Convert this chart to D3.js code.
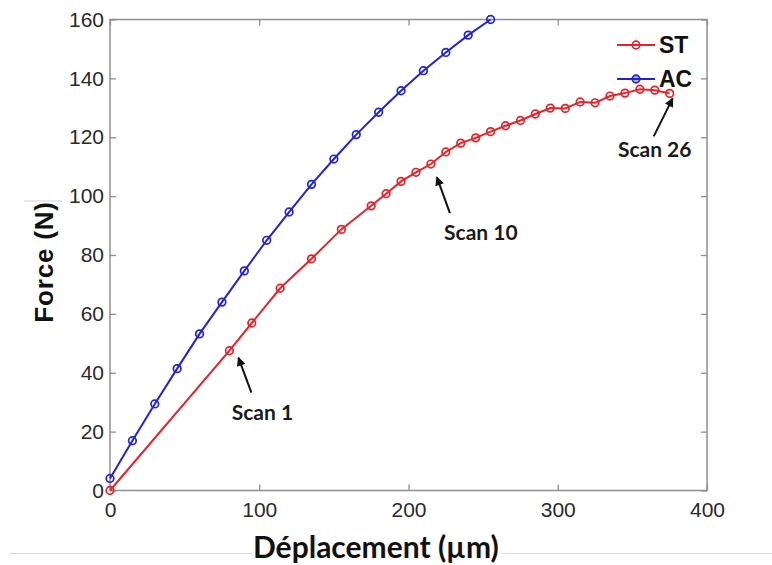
<!DOCTYPE html>
<html>
<head>
<meta charset="utf-8">
<script src="https://cdn.jsdelivr.net/npm/d3@7"></script>
<style>
  html, body { margin: 0; padding: 0; background: #fff; }
  svg { display: block; }
</style>
</head>
<body>
<svg id="chart" width="772" height="565"></svg>
<script>
// ---------- data ----------
const xTicks = [0, 100, 200, 300, 400];
const yTicks = [0, 20, 40, 60, 80, 100, 120, 140, 160];

const acX = [0, 15, 30, 45, 60, 75, 90, 105, 120, 135, 150, 165, 180, 195, 210, 225, 240, 255];
const acY = [4.1, 16.9, 29.4, 41.4, 53.2, 64.0, 74.6, 85.0, 94.6, 104.0, 112.6, 120.9, 128.5, 135.8, 142.6, 148.8, 154.7, 160.0];

const stX = [0, 80, 95, 114, 135, 155, 175, 185, 195, 205, 215, 225, 235, 245, 255, 265, 275, 285, 295, 305, 315, 325, 335, 345, 355, 365, 375];
const stY = [0, 47.5, 56.9, 68.7, 78.7, 88.7, 96.7, 100.8, 105.0, 108.1, 110.9, 115.0, 118.0, 119.8, 121.9, 123.9, 125.7, 127.9, 129.9, 129.8, 132.0, 131.7, 134.0, 135.0, 136.3, 136.0, 134.9];

const seriesNames = ["ST", "AC"];
const scanNames = ["Scan 1", "Scan 10", "Scan 26"];
const scanIndex = [1, 10, 26];

// ---------- layout ----------
const W = 772, H = 565;
const L = 110, R = 707, T = 19.5, B = 490.5;
const RED = "#e4232a", BLUE = "#2323d4", FRAME = "#8f8f8f";
const tickFont = "'Liberation Sans', Arial, sans-serif";
const labelFont = "Lato, 'Open Sans', sans-serif";

const svg = d3.select("#chart");
const x = d3.scaleLinear().domain([0, 400]).range([L, R]);
const y = d3.scaleLinear().domain([0, 160]).range([B, T]);

// background page artifacts (thin grey lines)
svg.append("line").attr("x1", 10).attr("x2", 252).attr("y1", 553.5).attr("y2", 553.5)
  .attr("stroke", "#d8d8d8").attr("stroke-width", 1.2);
svg.append("line").attr("x1", 501).attr("x2", 772).attr("y1", 553.5).attr("y2", 553.5)
  .attr("stroke", "#d8d8d8").attr("stroke-width", 1.2);
svg.append("line").attr("x1", 24).attr("x2", 62).attr("y1", 201).attr("y2", 201)
  .attr("stroke", "#d0d0d0").attr("stroke-width", 1);

// frame
svg.append("rect").attr("x", L).attr("y", T).attr("width", R - L).attr("height", B - T)
  .attr("fill", "none").attr("stroke", FRAME).attr("stroke-width", 1.5);

// axes with inward ticks
const axB = d3.axisBottom(x).tickValues(xTicks).tickSizeInner(-6).tickSizeOuter(0).tickPadding(12);
const axL = d3.axisLeft(y).tickValues(yTicks).tickSizeInner(-6).tickSizeOuter(0).tickPadding(6);
const axT = d3.axisTop(x).tickValues(xTicks).tickSizeInner(-6).tickSizeOuter(0).tickFormat("");
const axR = d3.axisRight(y).tickValues(yTicks).tickSizeInner(-6).tickSizeOuter(0).tickFormat("");

function styleAxis(g) {
  g.select(".domain").remove();
  g.selectAll(".tick line").attr("stroke", FRAME).attr("stroke-width", 1.3);
  g.selectAll(".tick text").attr("fill", "#2a2a2a").style("font-family", tickFont).style("font-size", "21px");
}
svg.append("g").attr("transform", `translate(0,${B})`).call(axB).call(styleAxis);
svg.append("g").attr("transform", `translate(${L},0)`).call(axL).call(styleAxis);
svg.append("g").attr("transform", `translate(0,${T})`).call(axT).call(styleAxis);
svg.append("g").attr("transform", `translate(${R},0)`).call(axR).call(styleAxis);

// axis labels
svg.append("text").attr("x", 253).attr("y", 558)
  .style("font-family", labelFont).style("font-weight", "bold").style("font-size", "30px")
  .attr("fill", "#111").text("Déplacement (µm)");
svg.append("text").attr("transform", "translate(53,262) rotate(-90)").attr("text-anchor", "middle")
  .style("font-family", "'Liberation Sans', Arial, sans-serif").style("font-weight", "bold")
  .style("font-size", "26px").style("letter-spacing", "0.8px")
  .attr("fill", "#111").text("Force  (N)");

// series
const acData = acX.map((v, i) => [v, acY[i]]);
const stData = stX.map((v, i) => [v, stY[i]]);
const line = d3.line().x(d => x(d[0])).y(d => y(d[1]));

function drawSeries(data, color) {
  svg.append("path").datum(data).attr("d", line)
    .attr("fill", "none").attr("stroke", color).attr("stroke-width", 2);
  svg.append("g").selectAll("circle").data(data).join("circle")
    .attr("cx", d => x(d[0])).attr("cy", d => y(d[1])).attr("r", 3.8)
    .attr("fill", "none").attr("stroke", color).attr("stroke-width", 1.7);
}
drawSeries(acData, BLUE);
drawSeries(stData, RED);

// arrow marker
svg.append("defs").append("marker").attr("id", "ah")
  .attr("viewBox", "0 0 10 10").attr("refX", 9).attr("refY", 5)
  .attr("markerWidth", 11).attr("markerHeight", 9).attr("markerUnits", "userSpaceOnUse")
  .attr("orient", "auto")
  .append("path").attr("d", "M0,0 L10,5 L0,10 Z").attr("fill", "#111");

// annotations (offsets relative to annotated data point)
const tipOff = [[9, 7], [6, 13], [3, 5]];
const tailOff = [[22, 42], [19, 49], [-16, 43]];
const textOff = [[33, 61], [50, 67], [-15, 55]];
scanNames.forEach((name, k) => {
  const p = stData[scanIndex[k]];
  const px = x(p[0]), py = y(p[1]);
  svg.append("line")
    .attr("x1", px + tailOff[k][0]).attr("y1", py + tailOff[k][1])
    .attr("x2", px + tipOff[k][0]).attr("y2", py + tipOff[k][1])
    .attr("stroke", "#111").attr("stroke-width", 2).attr("marker-end", "url(#ah)");
  svg.append("text").attr("x", px + textOff[k][0]).attr("y", py + textOff[k][1])
    .attr("text-anchor", "middle").attr("dominant-baseline", "central")
    .style("font-family", labelFont).style("font-weight", "bold").style("font-size", "21px")
    .attr("fill", "#1a1a1a").text(name);
});

// legend
const legColors = [RED, BLUE];
const legY = [45, 79];
seriesNames.forEach((n, i) => {
  const g = svg.append("g");
  g.append("line").attr("x1", 617).attr("x2", 655).attr("y1", legY[i]).attr("y2", legY[i])
    .attr("stroke", legColors[i]).attr("stroke-width", 2);
  g.append("circle").attr("cx", 636).attr("cy", legY[i]).attr("r", 3.8)
    .attr("fill", i === 1 ? legColors[i] : "none").attr("fill-opacity", i === 1 ? 0.35 : 0)
    .attr("stroke", legColors[i]).attr("stroke-width", 1.7);
  g.append("text").attr("x", 659).attr("y", legY[i]).attr("dominant-baseline", "central")
    .style("font-family", tickFont).style("font-weight", "bold").style("font-size", "23px")
    .attr("fill", "#111").text(n);
});
</script>
</body>
</html>
